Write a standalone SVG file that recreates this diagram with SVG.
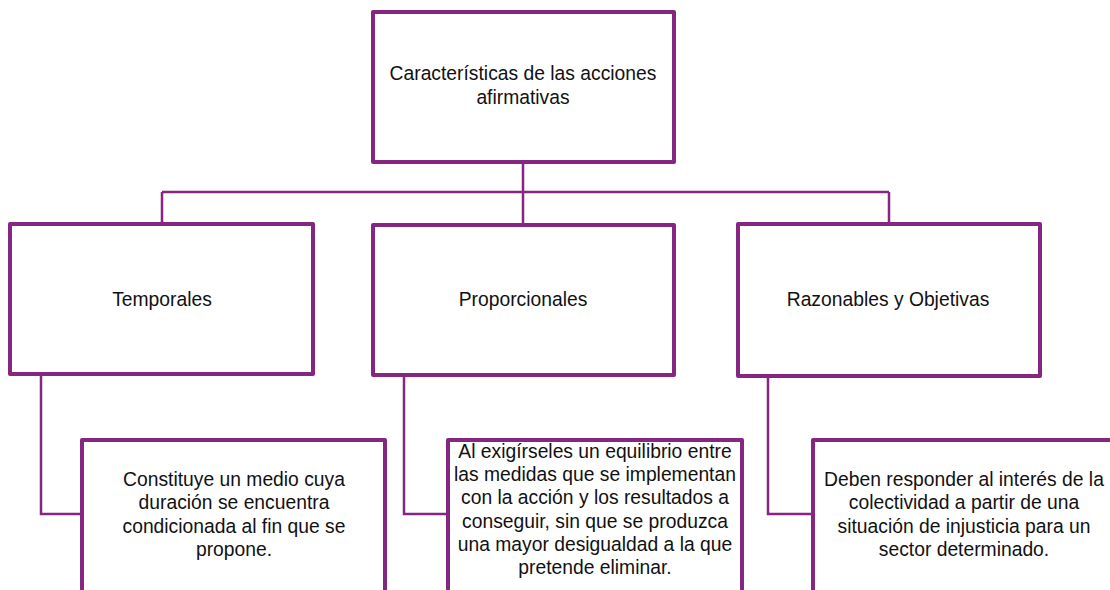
<svg xmlns="http://www.w3.org/2000/svg" width="1110" height="590" viewBox="0 0 1110 590">
<style>
.box{fill:#fff;stroke:#862683;stroke-width:4;stroke-linejoin:round}
.con{fill:none;stroke:#862683;stroke-width:2.5}
text{font-family:"Liberation Sans",Arial,sans-serif;font-size:19.3px;fill:#111;text-anchor:middle}
</style>
<rect width="1110" height="590" fill="#fff"/>
<g id="connectors">
<path class="con" d="M523 162V192M162 192H889M162 192V223M523 192V225M889 192V224"/>
<path class="con" d="M41 374V514H82"/>
<path class="con" d="M404 375V514H447"/>
<path class="con" d="M768 376V514H813"/>
</g>
<g id="root"><rect class="box" x="373" y="12" width="301" height="150"/>
<text x="523" y="80">Características de las acciones</text><text x="523" y="104">afirmativas</text></g>
<g id="temporales"><rect class="box" x="10" y="224" width="303" height="150"/><text x="162" y="306">Temporales</text></g>
<g id="proporcionales"><rect class="box" x="373" y="225" width="301" height="150"/><text x="523" y="306">Proporcionales</text></g>
<g id="razonables"><rect class="box" x="738" y="224" width="302" height="152"/><text x="888" y="306">Razonables y Objetivas</text></g>
<g id="temporales-desc"><rect class="box" x="82" y="440" width="303" height="160"/>
<text x="234" y="486">Constituye un medio cuya</text><text x="234" y="509">duración se encuentra</text><text x="234" y="533">condicionada al fin que se</text><text x="234" y="556">propone.</text></g>
<g id="proporcionales-desc"><rect class="box" x="448" y="440" width="294" height="160"/>
<text x="595" y="458">Al exigírseles un equilibrio entre</text><text x="595" y="481">las medidas que se implementan</text><text x="595" y="504">con la acción y los resultados a</text><text x="595" y="528">conseguir, sin que se produzca</text><text x="595" y="551">una mayor desigualdad a la que</text><text x="595" y="574">pretende eliminar.</text></g>
<g id="razonables-desc"><rect class="box" x="813" y="440" width="303" height="160"/>
<text x="964" y="486">Deben responder al interés de la</text><text x="964" y="509">colectividad a partir de una</text><text x="964" y="533">situación de injusticia para un</text><text x="964" y="556">sector determinado.</text></g>
</svg>
